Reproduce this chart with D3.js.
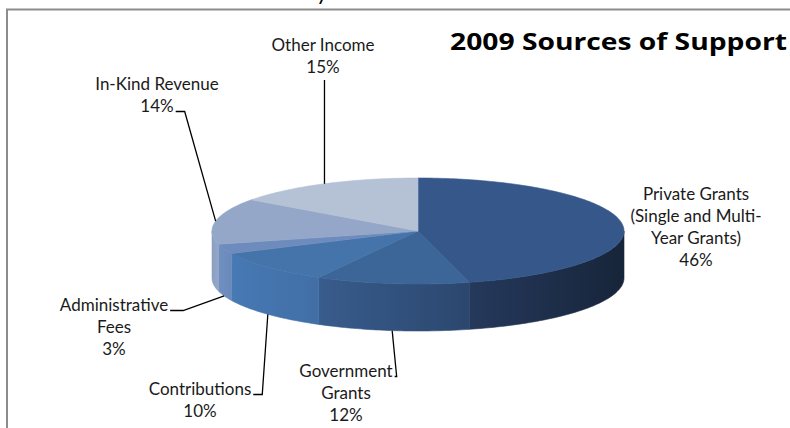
<!DOCTYPE html>
<html>
<head>
<meta charset="utf-8">
<script src="https://cdn.jsdelivr.net/npm/d3@7"></script>
<style>
  body { margin: 0; background: #fff; }
  svg { display: block; }
</style>
</head>
<body>
<svg id="chart" width="790" height="428"></svg>
<script>
// data
const categories = ["Private Grants", "Government Grants", "Contributions", "Administrative Fees", "In-Kind Revenue", "Other Income"];
const shares = [46, 12, 10, 3, 14, 15];
const labelLines = [
  ["Private Grants", "(Single and Multi-", "Year Grants)"],
  ["Government", "Grants"],
  ["Contributions"],
  ["Administrative", "Fees"],
  ["In-Kind Revenue"],
  ["Other Income"]
];
const title = "2009 Sources of Support";

// styles
const topColors = ["#36578a", "#3c6598", "#4574aa", "#6d8cbd", "#94a7c8", "#b5c1d5"];
const wallColors = [
  ["#25395c", "#17253a"],
  ["#385c8d", "#2b476e"],
  ["#4779b4", "#416ea5"],
  ["#7090c1", "#6989bb"],
  ["#8c9fc1", "#95a8c8"],
  ["#aab6cc", "#b5c1d5"]
];

// label layout: centre x, first baseline y, leader style
const labelLayout = [
  { x: 696, y: 200, leader: null },
  { x: 346, y: 377, leader: { type: "right", line: 0, len: 2 } },
  { x: 200, y: 395, leader: { type: "right", line: 0, len: 9 } },
  { x: 114, y: 311, leader: { type: "right", line: 0, len: 13 } },
  { x: 157, y: 90, leader: { type: "right", line: 1, len: 9 } },
  { x: 323, y: 51, leader: { type: "below" } }
];

const svg = d3.select("#chart");
const font = "Lato, 'Open Sans', sans-serif";
const lineH = 22;

// chart frame (only top and left edge are inside the picture)
svg.append("rect")
  .attr("x", 7).attr("y", 9.5)
  .attr("width", 900).attr("height", 600)
  .attr("fill", "none")
  .attr("stroke", "#8c8c8c")
  .attr("stroke-width", 2);

// cut-off text descender above the frame
svg.append("text")
  .attr("x", 322).attr("y", 0)
  .attr("text-anchor", "middle")
  .attr("font-family", font).attr("font-size", 22)
  .attr("fill", "#000")
  .text("y");

// title
svg.append("text")
  .attr("x", 450).attr("y", 50)
  .attr("font-family", "'Open Sans', Lato, sans-serif")
  .attr("font-weight", "bold")
  .attr("font-size", 24)
  .attr("textLength", 337)
  .attr("lengthAdjust", "spacingAndGlyphs")
  .attr("fill", "#000")
  .text(title);

// pie geometry
const cx = 418, cy = 231, rx = 206, ry = 53, depth = 47;
const pt = (a, yc) => [cx + rx * Math.sin(a), yc - ry * Math.cos(a)];

const arcs = d3.pie()
  .sort(null)
  .value(d => d.share)(categories.map((c, i) => ({ name: c, share: shares[i], i: i })));

const line = d3.line();
const defs = svg.append("defs");

function arcPoints(a0, a1, yc) {
  const n = Math.max(2, Math.ceil(Math.abs(a1 - a0) / 0.02));
  return d3.range(n + 1).map(k => pt(a0 + (a1 - a0) * k / n, yc));
}

// side walls (front half only)
const walls = svg.append("g");
arcs.forEach(d => {
  const s = Math.max(d.startAngle, Math.PI / 2);
  const e = Math.min(d.endAngle, 3 * Math.PI / 2);
  if (s >= e) return;
  const gid = "wall" + d.data.i;
  const g = defs.append("linearGradient")
    .attr("id", gid)
    .attr("gradientUnits", "userSpaceOnUse")
    .attr("x1", pt(e, cy)[0]).attr("x2", pt(s, cy)[0])
    .attr("y1", 0).attr("y2", 0);
  g.append("stop").attr("offset", 0).attr("stop-color", wallColors[d.data.i][0]);
  g.append("stop").attr("offset", 1).attr("stop-color", wallColors[d.data.i][1]);
  const pts = arcPoints(s, e, cy).concat(arcPoints(e, s, cy + depth));
  walls.append("path")
    .attr("d", line(pts) + "Z")
    .attr("fill", `url(#${gid})`)
    .attr("stroke", `url(#${gid})`)
    .attr("stroke-width", 0.6);
});

// top faces
const tops = svg.append("g");
arcs.forEach(d => {
  const pts = [[cx, cy]].concat(arcPoints(d.startAngle, d.endAngle, cy));
  tops.append("path")
    .attr("d", line(pts) + "Z")
    .attr("fill", topColors[d.data.i])
    .attr("stroke", topColors[d.data.i])
    .attr("stroke-width", 0.6);
});

// labels and leader lines
const labels = svg.append("g")
  .attr("font-family", font)
  .attr("font-size", 17)
  .attr("fill", "#1a1a1a")
  .attr("text-anchor", "middle");

arcs.forEach(d => {
  const i = d.data.i;
  const lay = labelLayout[i];
  const lines = labelLines[i].concat([shares[i] + "%"]);
  const nodes = lines.map((t, k) => labels.append("text")
    .attr("x", lay.x)
    .attr("y", lay.y + k * lineH)
    .text(t));
  if (!lay.leader) return;

  const mid = (d.startAngle + d.endAngle) / 2;
  const front = Math.cos(mid) < 0;
  const anchor = pt(mid, front ? cy + depth : cy);
  let pts;
  if (lay.leader.type === "below") {
    const yb = lay.y + (lines.length - 1) * lineH + 7;
    pts = [[anchor[0], yb], anchor];
  } else {
    const k = lay.leader.line;
    const bb = nodes[k].node().getBBox();
    const y0 = lay.y + k * lineH - 0.5;
    const x0 = bb.x + bb.width + 2;
    pts = [[x0, y0], [x0 + lay.leader.len, y0], anchor];
  }
  svg.append("path")
    .attr("d", line(pts))
    .attr("fill", "none")
    .attr("stroke", "#000")
    .attr("stroke-width", 1.3);
});
</script>
</body>
</html>
